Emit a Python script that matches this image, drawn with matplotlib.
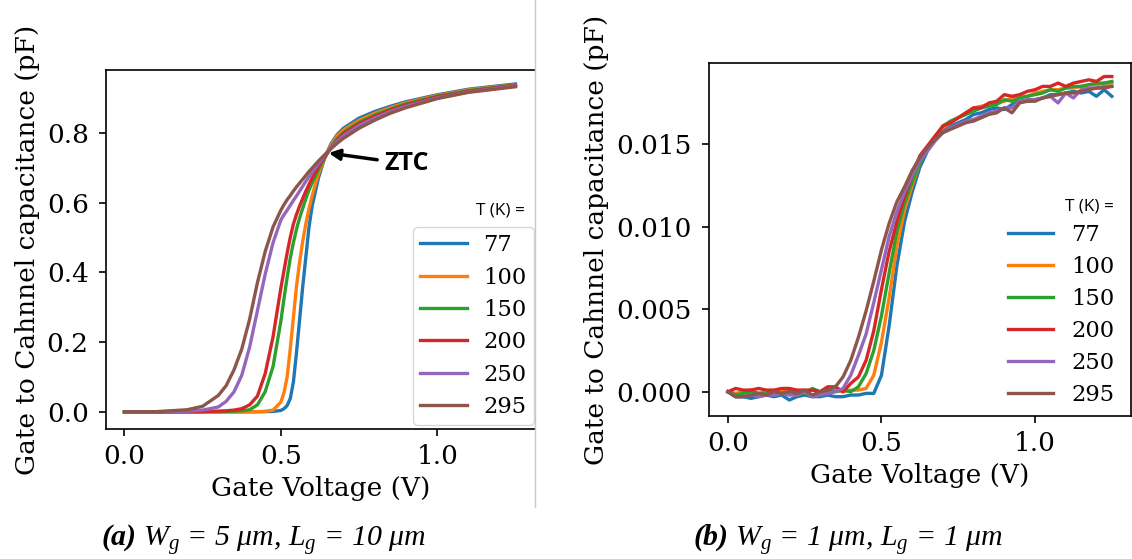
import matplotlib
matplotlib.use("Agg")
import matplotlib.pyplot as plt
from matplotlib.lines import Line2D

plt.rcParams['font.family'] = 'DejaVu Serif'
plt.rcParams['mathtext.fontset'] = 'custom'
plt.rcParams['mathtext.rm'] = 'Liberation Serif'
plt.rcParams['mathtext.it'] = 'Liberation Serif:italic'
plt.rcParams['mathtext.bf'] = 'Liberation Serif:italic:bold'

# temperatures (K) and tab10 colours
temps = ['77', '100', '150', '200', '250', '295']
colors = ['#1f77b4', '#ff7f0e', '#2ca02c', '#d62728', '#9467bd', '#8c564b']

# (a) Wg = 5 um, Lg = 10 um  -- capacitance in pF
vg_a = [0.0, 0.1, 0.2, 0.25, 0.3, 0.325, 0.35, 0.375, 0.4, 0.425, 0.45, 0.475,
        0.5, 0.51, 0.52, 0.53, 0.54, 0.55, 0.56, 0.57, 0.58, 0.59, 0.6, 0.62,
        0.64, 0.66, 0.68, 0.7, 0.75, 0.8, 0.85, 0.9, 1.0, 1.1, 1.25]
c77_a = [0, 0, 0, 0, 0, 0, 0, 0, 0.0002, 0.0004, 0.0007, 0.0012,
         0.004, 0.009, 0.018, 0.038, 0.085, 0.17, 0.265, 0.36, 0.445, 0.53, 0.59, 0.67,
         0.728, 0.768, 0.795, 0.813, 0.842, 0.861, 0.876, 0.889, 0.909, 0.925, 0.94]
c100_a = [0, 0, 0, 0, 0, 0, 0, 0, 0.0003, 0.0006, 0.0015, 0.005,
          0.028, 0.055, 0.1, 0.18, 0.27, 0.36, 0.43, 0.49, 0.54, 0.583, 0.62, 0.682,
          0.728, 0.764, 0.791, 0.808, 0.836, 0.856, 0.872, 0.886, 0.907, 0.923, 0.938]
c150_a = [0, 0, 0.0002, 0.0004, 0.0008, 0.0012, 0.002, 0.003, 0.006, 0.02, 0.058, 0.13,
          0.26, 0.325, 0.385, 0.44, 0.485, 0.524, 0.556, 0.584, 0.611, 0.636, 0.656, 0.694,
          0.728, 0.758, 0.783, 0.801, 0.83, 0.851, 0.868, 0.883, 0.905, 0.921, 0.937]
c200_a = [0, 0, 0.0005, 0.001, 0.002, 0.003, 0.005, 0.009, 0.02, 0.045, 0.11, 0.215,
          0.355, 0.405, 0.455, 0.5, 0.538, 0.566, 0.59, 0.612, 0.633, 0.652, 0.67, 0.702,
          0.731, 0.757, 0.779, 0.797, 0.826, 0.847, 0.865, 0.88, 0.903, 0.919, 0.936]
c250_a = [0, 0.0002, 0.002, 0.005, 0.014, 0.03, 0.057, 0.105, 0.185, 0.29, 0.395, 0.485,
          0.55, 0.565, 0.578, 0.592, 0.606, 0.619, 0.633, 0.647, 0.661, 0.674, 0.687, 0.711,
          0.735, 0.756, 0.775, 0.791, 0.821, 0.842, 0.861, 0.876, 0.9, 0.917, 0.934]
c295_a = [0, 0.0005, 0.006, 0.016, 0.047, 0.075, 0.12, 0.18, 0.265, 0.37, 0.46, 0.53,
          0.578, 0.594, 0.608, 0.62, 0.633, 0.645, 0.656, 0.667, 0.678, 0.689, 0.699, 0.719,
          0.737, 0.754, 0.77, 0.784, 0.813, 0.836, 0.856, 0.872, 0.898, 0.916, 0.932]

# (b) Wg = 1 um, Lg = 1 um  -- capacitance in fF (1e-3 pF)
vg_b = [0.0, 0.025, 0.05, 0.075, 0.1, 0.125, 0.15, 0.175, 0.2, 0.225, 0.25, 0.275,
        0.3, 0.325, 0.35, 0.375, 0.4, 0.425, 0.45, 0.475, 0.5, 0.525, 0.55, 0.575,
        0.6, 0.625, 0.65, 0.675, 0.7, 0.725, 0.75, 0.775, 0.8, 0.825, 0.85, 0.875,
        0.9, 0.925, 0.95, 0.975, 1.0, 1.025, 1.05, 1.075, 1.1, 1.125, 1.15, 1.175,
        1.2, 1.225, 1.25]
c77_b = [0.0, -0.3, -0.3, -0.4, -0.3, -0.2, -0.3, -0.2, -0.5, -0.3, -0.2, -0.3,
         -0.3, -0.2, -0.3, -0.3, -0.2, -0.2, -0.1, -0.1, 1.0, 4.0, 7.6, 10.3,
         12.1, 13.6, 14.6, 15.3, 15.8, 16.1, 16.3, 16.5, 16.8, 16.9, 17.1, 17.2,
         17.1, 17.4, 17.6, 17.6, 17.7, 17.8, 18.0, 18.0, 18.1, 18.2, 18.1, 18.2,
         17.9, 18.3, 17.9]
c100_b = [0.0, -0.1, 0.0, 0.1, -0.1, 0.0, 0.0, 0.1, 0.0, -0.1, 0.0, 0.1,
          0.0, -0.1, 0.1, 0.0, 0.1, 0.1, 0.2, 1.0, 3.0, 5.7, 8.8, 11.0,
          12.5, 13.9, 14.8, 15.5, 16.0, 16.3, 16.6, 16.9, 17.2, 17.3, 17.4, 17.5,
          17.6, 17.8, 17.9, 17.9, 18.1, 18.2, 18.3, 18.3, 18.4, 18.4, 18.5, 18.6,
          18.6, 18.7, 18.7]
c150_b = [0.0, -0.2, -0.1, 0.0, -0.1, -0.1, 0.0, -0.1, 0.0, 0.0, -0.1, 0.2,
          0.0, 0.1, 0.0, 0.1, 0.0, 0.3, 1.1, 2.5, 4.6, 7.2, 9.7, 11.4,
          12.7, 13.9, 14.8, 15.4, 16.1, 16.4, 16.6, 16.8, 17.0, 17.2, 17.3, 17.4,
          17.7, 17.6, 17.8, 17.9, 18.0, 18.1, 18.3, 18.2, 18.4, 18.5, 18.5, 18.6,
          18.7, 18.7, 18.8]
c200_b = [0.0, 0.2, 0.1, 0.1, 0.2, 0.1, 0.1, 0.2, 0.2, 0.1, 0.1, 0.1,
          0.0, 0.3, 0.3, 0.0, 0.5, 0.9, 1.9, 3.7, 6.2, 8.5, 10.3, 11.8,
          13.1, 14.3, 14.9, 15.5, 16.1, 16.3, 16.6, 16.9, 17.2, 17.2, 17.5, 17.6,
          18.0, 17.9, 18.0, 18.2, 18.3, 18.5, 18.5, 18.7, 18.5, 18.7, 18.8, 18.9,
          18.8, 19.1, 19.1]
c250_b = [0.0, -0.3, -0.3, -0.2, -0.3, -0.2, -0.2, -0.1, -0.2, -0.2, 0.0, -0.3,
          -0.2, -0.1, 0.0, 0.2, 1.0, 2.2, 3.5, 5.4, 7.4, 9.4, 10.9, 12.1,
          13.1, 14.0, 14.6, 15.2, 15.7, 16.0, 16.2, 16.4, 16.5, 16.7, 16.9, 17.0,
          17.2, 17.2, 17.6, 17.7, 17.7, 17.8, 17.9, 17.5, 18.1, 17.8, 18.3, 18.4,
          18.4, 18.5, 18.5]
c295_b = [0.0, -0.3, -0.3, -0.2, -0.1, -0.2, 0.0, -0.1, 0.0, -0.1, 0.1, -0.2,
          0.0, 0.1, 0.3, 0.9, 1.9, 3.3, 4.9, 6.7, 8.6, 10.2, 11.5, 12.4,
          13.4, 14.2, 14.8, 15.3, 15.7, 15.9, 16.1, 16.3, 16.4, 16.6, 16.8, 16.9,
          17.2, 16.9, 17.5, 17.6, 17.6, 17.8, 17.9, 18.0, 18.1, 18.1, 18.2, 18.3,
          18.4, 18.4, 18.5]

curves_a = [c77_a, c100_a, c150_a, c200_a, c250_a, c295_a]
curves_b = [c77_b, c100_b, c150_b, c200_b, c250_b, c295_b]

W, H = 1132, 559
fig = plt.figure(figsize=(W / 100, H / 100), dpi=100)
ax1 = fig.add_axes([105.7 / W, 1 - 429.3 / H, (535 - 105.7) / W, (429.3 - 70) / H])
ax2 = fig.add_axes([708.7 / W, 1 - 416 / H, (1131 - 708.7) / W, (416 - 63.3) / H])

for t, c, y in zip(temps, colors, curves_a):
    ax1.plot(vg_a, y, color=c, lw=2.4, label=t)
for t, c, y in zip(temps, colors, curves_b):
    ax2.plot(vg_b, [v / 1000 for v in y], color=c, lw=2.4, label=t)

ax1.set_xlim(-0.06, 1.3125)
ax1.set_ylim(-0.05, 0.98)
ax1.set_yticks([0.0, 0.2, 0.4, 0.6, 0.8])
ax2.set_xlim(-0.0625, 1.3125)
ax2.set_ylim(-0.00147, 0.0199)
ax2.set_yticks([0.0, 0.005, 0.010, 0.015])
ax2.set_yticklabels(['0.000', '0.005', '0.010', '0.015'])
ax1.spines['right'].set_visible(False)

for ax in (ax1, ax2):
    ax.set_xticks([0.0, 0.5, 1.0])
    ax.tick_params(labelsize=19, length=5.25, width=1.2, pad=5.25)
    ax.tick_params(axis='y', pad=7)
    for s in ax.spines.values():
        s.set_linewidth(1.2)
    ax.set_xlabel('Gate Voltage (V)', fontsize=19, labelpad=5)
    ax.set_ylabel('Gate to Cahnnel capacitance (pF)', fontsize=19, labelpad=5)

# legends (title drawn as separate text above the entries)
ax1.legend(loc='upper left', bbox_to_anchor=(413.3 / W, 1 - 227.3 / H),
           bbox_transform=fig.transFigure, borderaxespad=0, fontsize=16.3,
           handlelength=2.05, labelspacing=0.46, handletextpad=0.75, borderpad=0.3)
leg2 = ax2.legend(loc='upper left', bbox_to_anchor=(1001 / W, 1 - 217.4 / H),
                  bbox_transform=fig.transFigure, borderaxespad=0, fontsize=16.3,
                  handlelength=2.0, labelspacing=0.44, handletextpad=0.8, borderpad=0.3)
leg2.get_frame().set_edgecolor('none')
fig.text(500.3 / W, 1 - 210.7 / H, 'T (K) =', family='Open Sans', fontsize=12.3,
         ha='center', va='center')
fig.text(1089 / W, 1 - 206.7 / H, 'T (K) =', family='Open Sans', fontsize=12.3,
         ha='center', va='center')

ax1.annotate('ZTC', xy=(0.653, 0.742), xytext=(0.83, 0.711),
             fontsize=18, fontweight='bold', family='Open Sans', ha='left', va='center',
             arrowprops=dict(arrowstyle='-|>', color='black', lw=2.5,
                             mutation_scale=16, shrinkA=3, shrinkB=0))

# divider between the two sub-figures
fig.add_artist(Line2D([534.5 / W, 534.5 / W], [1.0, 1 - 507 / H],
                      color='#c8c8c8', lw=1.0, zorder=10))

fig.text(263.5 / W, 1 - 546.7 / H,
         r'$\mathbf{(a)}$ $W_g$ = 5 $\mu m$, $L_g$ = 10 $\mu m$',
         family='Liberation Serif', style='italic', fontsize=21.5,
         ha='center', va='baseline')
fig.text(848 / W, 1 - 546.7 / H,
         r'$\mathbf{(b)}$ $W_g$ = 1 $\mu m$, $L_g$ = 1 $\mu m$',
         family='Liberation Serif', style='italic', fontsize=21.5,
         ha='center', va='baseline')

fig.savefig('out.png', dpi=100)
